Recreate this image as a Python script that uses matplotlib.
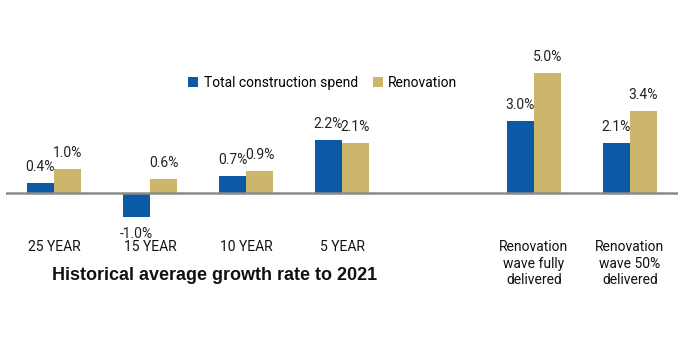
import matplotlib
matplotlib.use("Agg")
import matplotlib.pyplot as plt
import matplotlib.transforms as mtransforms
import numpy as np

categories = ["25 YEAR", "15 YEAR", "10 YEAR", "5 YEAR",
              "Renovation\nwave fully\ndelivered", "Renovation\nwave 50%\ndelivered"]
slots = [0, 1, 2, 3, 5, 6]
total_spend = [0.4, -1.0, 0.7, 2.2, 3.0, 2.1]
renovation = [1.0, 0.6, 0.9, 2.1, 5.0, 3.4]
series_names = ["Total construction spend", "Renovation"]
subtitle = "Historical average growth rate to 2021"

BLUE = "#0A5AA5"
GOLD = "#CDB66B"
narrow = ["Roboto", "DejaVu Sans"]

W, H = 683, 341
fig = plt.figure(figsize=(W / 100, H / 100), dpi=100)
ax = fig.add_axes([6 / W, 0, 672 / W, 1])

px_per_unit = 24.0
zero_y = 193
ax.set_ylim(-(H - zero_y) / px_per_unit, zero_y / px_per_unit)
ax.set_xlim(-0.5, 6.5)

bw = 27 / 96
x = np.array(slots, dtype=float)
b1 = ax.bar(x - bw / 2, total_spend, bw, color=BLUE, label=series_names[0])
b2 = ax.bar(x + bw / 2, renovation, bw, color=GOLD, label=series_names[1])

for bars, vals in ((b1, total_spend), (b2, renovation)):
    for rect, v in zip(bars, vals):
        cx = rect.get_x() + rect.get_width() / 2
        off = 11.5 if v >= 0 else -12
        ax.annotate(f"{v:.1f}%", (cx, v), xytext=(0, off), textcoords="offset points",
                    ha="center", va="center", fontsize=10, family=narrow, color="#222222")

ax.axhline(0, color="#8a8a8a", lw=1.8, zorder=3)
for s in ax.spines.values():
    s.set_visible(False)
ax.set_xticks([])
ax.set_yticks([])

# category labels below the baseline
lab_tf = mtransforms.blended_transform_factory(ax.transData, fig.transFigure)
for xi, lab in zip(slots, categories):
    ax.text(xi, 1 - 240 / H, lab, transform=lab_tf, ha="center", va="top",
            fontsize=10, family=narrow, color="#111111", linespacing=1.25)

fig.text(215 / W, 1 - 276 / H, subtitle, ha="center", va="center",
         fontsize=13, fontweight="bold", family=["Liberation Sans", "DejaVu Sans"], color="#111111")

fig.legend(handles=[b1, b2], loc="center", bbox_to_anchor=(323 / W, 1 - 83 / H),
           ncol=2, frameon=False, handlelength=0.7, handleheight=0.7,
           handletextpad=0.4, columnspacing=1.1,
           prop={"family": narrow, "size": 10})

fig.savefig("out.png", dpi=100, facecolor="white")
